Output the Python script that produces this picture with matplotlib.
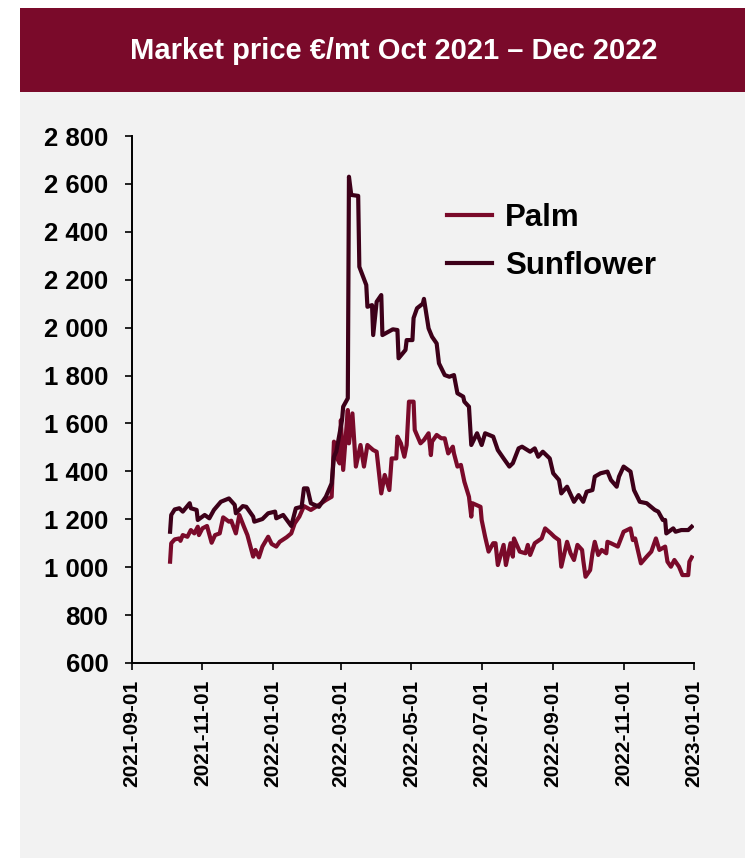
import numpy as np
import pandas as pd
import matplotlib
matplotlib.use("Agg")
import matplotlib.pyplot as plt
import matplotlib.dates as mdates
from matplotlib.patches import Rectangle
from matplotlib.ticker import FuncFormatter

# values (EUR per metric tonne)
palm_dates = [
    "2021-10-04", "2021-10-05", "2021-10-08", "2021-10-12", "2021-10-13", "2021-10-15",
    "2021-10-19", "2021-10-22", "2021-10-25", "2021-10-28", "2021-10-29", "2021-11-01",
    "2021-11-05", "2021-11-09", "2021-11-12", "2021-11-16", "2021-11-19", "2021-11-24",
    "2021-11-26", "2021-11-30", "2021-12-03", "2021-12-07", "2021-12-10", "2021-12-15",
    "2021-12-17", "2021-12-20", "2021-12-23", "2021-12-28", "2021-12-31", "2022-01-04",
    "2022-01-07", "2022-01-13", "2022-01-17", "2022-01-20", "2022-01-24", "2022-01-28",
    "2022-02-03", "2022-02-10", "2022-02-16", "2022-02-21", "2022-02-23", "2022-02-25",
    "2022-02-28", "2022-03-01", "2022-03-03", "2022-03-07", "2022-03-08", "2022-03-11",
    "2022-03-14", "2022-03-18", "2022-03-21", "2022-03-24", "2022-03-29", "2022-04-01",
    "2022-04-05", "2022-04-08", "2022-04-12", "2022-04-14", "2022-04-18", "2022-04-19",
    "2022-04-22", "2022-04-25", "2022-04-27", "2022-04-29", "2022-05-03", "2022-05-04",
    "2022-05-09", "2022-05-12", "2022-05-16", "2022-05-18", "2022-05-19", "2022-05-23",
    "2022-05-27", "2022-05-30", "2022-06-02", "2022-06-06", "2022-06-07", "2022-06-10",
    "2022-06-13", "2022-06-16", "2022-06-20", "2022-06-22", "2022-06-23", "2022-06-30",
    "2022-07-01", "2022-07-04", "2022-07-07", "2022-07-11", "2022-07-13", "2022-07-15",
    "2022-07-20", "2022-07-22", "2022-07-26", "2022-07-28", "2022-07-29", "2022-08-03",
    "2022-08-08", "2022-08-10", "2022-08-12", "2022-08-16", "2022-08-22", "2022-08-25",
    "2022-08-30", "2022-09-02", "2022-09-06", "2022-09-08", "2022-09-13", "2022-09-16",
    "2022-09-19", "2022-09-22", "2022-09-26", "2022-09-27", "2022-09-29", "2022-10-03",
    "2022-10-05", "2022-10-07", "2022-10-10", "2022-10-13", "2022-10-17", "2022-10-18",
    "2022-10-21", "2022-10-27", "2022-11-01", "2022-11-07", "2022-11-09", "2022-11-11",
    "2022-11-16", "2022-11-21", "2022-11-25", "2022-11-29", "2022-12-02", "2022-12-07",
    "2022-12-09", "2022-12-12", "2022-12-15", "2022-12-19", "2022-12-22", "2022-12-27",
    "2022-12-28", "2022-12-30",
]
palm = [
    1023, 1100, 1116, 1120, 1110, 1134,
    1127, 1155, 1141, 1169, 1134, 1162,
    1172, 1102, 1134, 1141, 1208, 1190,
    1194, 1141, 1218, 1169, 1134, 1044,
    1072, 1041, 1086, 1127, 1097, 1086,
    1106, 1125, 1141, 1183, 1211, 1255,
    1239, 1260, 1280, 1294, 1524, 1461,
    1433, 1614, 1406, 1656, 1517, 1642,
    1420, 1510, 1420, 1510, 1489, 1482,
    1308, 1385, 1322, 1454, 1454, 1545,
    1517, 1461, 1510, 1691, 1691, 1573,
    1517, 1531, 1559, 1468, 1524, 1552,
    1538, 1538, 1475, 1503, 1475, 1420,
    1427, 1357, 1294, 1211, 1267, 1252,
    1197, 1127, 1065, 1100, 1100, 1009,
    1093, 1009, 1100, 1044, 1120, 1065,
    1058, 1093, 1051, 1100, 1120, 1162,
    1141, 1127, 1113, 1002, 1106, 1058,
    1030, 1093, 1072, 1030, 960, 988,
    1058, 1106, 1051, 1072, 1058, 1106,
    1100, 1086, 1148, 1162, 1113, 1120,
    1016, 1044, 1065, 1120, 1072, 1086,
    1023, 1002, 1030, 1002, 967, 967,
    1023, 1041,
]

sun_dates = [
    "2021-10-04", "2021-10-05", "2021-10-08", "2021-10-12", "2021-10-15", "2021-10-21",
    "2021-10-22", "2021-10-27", "2021-10-28", "2021-11-03", "2021-11-07", "2021-11-11",
    "2021-11-17", "2021-11-24", "2021-11-29", "2021-11-30", "2021-12-06", "2021-12-09",
    "2021-12-15", "2021-12-16", "2021-12-23", "2021-12-28", "2022-01-03", "2022-01-04",
    "2022-01-10", "2022-01-17", "2022-01-21", "2022-01-26", "2022-01-28", "2022-01-31",
    "2022-02-03", "2022-02-10", "2022-02-16", "2022-02-21", "2022-02-23", "2022-02-25",
    "2022-03-02", "2022-03-03", "2022-03-07", "2022-03-08", "2022-03-10", "2022-03-16",
    "2022-03-17", "2022-03-23", "2022-03-24", "2022-03-28", "2022-03-29", "2022-04-01",
    "2022-04-05", "2022-04-06", "2022-04-15", "2022-04-19", "2022-04-20", "2022-04-26",
    "2022-04-27", "2022-05-02", "2022-05-03", "2022-05-06", "2022-05-11", "2022-05-12",
    "2022-05-16", "2022-05-19", "2022-05-23", "2022-05-25", "2022-05-30", "2022-06-03",
    "2022-06-07", "2022-06-10", "2022-06-15", "2022-06-16", "2022-06-20", "2022-06-22",
    "2022-06-27", "2022-07-01", "2022-07-04", "2022-07-11", "2022-07-15", "2022-07-20",
    "2022-07-25", "2022-07-28", "2022-08-02", "2022-08-05", "2022-08-12", "2022-08-16",
    "2022-08-19", "2022-08-23", "2022-08-29", "2022-09-01", "2022-09-06", "2022-09-08",
    "2022-09-13", "2022-09-19", "2022-09-23", "2022-09-27", "2022-09-30", "2022-10-05",
    "2022-10-07", "2022-10-12", "2022-10-18", "2022-10-21", "2022-10-26", "2022-10-28",
    "2022-11-01", "2022-11-07", "2022-11-10", "2022-11-15", "2022-11-21", "2022-11-28",
    "2022-12-01", "2022-12-05", "2022-12-07", "2022-12-08", "2022-12-14", "2022-12-16",
    "2022-12-21", "2022-12-27", "2022-12-30",
]
sunflower = [
    1148, 1218, 1241, 1246, 1232, 1267,
    1246, 1239, 1197, 1218, 1204, 1239,
    1273, 1287, 1260, 1225, 1255, 1252,
    1211, 1190, 1201, 1225, 1232, 1204,
    1218, 1172, 1246, 1252, 1329, 1329,
    1267, 1252, 1294, 1350, 1461, 1482,
    1614, 1670, 1705, 2630, 2554, 2550,
    2254, 2178, 2087, 2094, 1969, 2108,
    2136, 1969, 1993, 1990, 1872, 1907,
    1948, 1948, 2040, 2081, 2100, 2120,
    1997, 1962, 1934, 1851, 1802, 1795,
    1802, 1726, 1712, 1691, 1670, 1510,
    1559, 1510, 1559, 1545, 1489, 1454,
    1420, 1434, 1496, 1503, 1482, 1496,
    1461, 1482, 1454, 1392, 1364, 1308,
    1336, 1273, 1301, 1273, 1315, 1322,
    1378, 1392, 1399, 1364, 1336, 1378,
    1420, 1399, 1322, 1273, 1267, 1239,
    1232, 1197, 1197, 1141, 1162, 1148,
    1155, 1155, 1169,
]

title = "Market price €/mt Oct 2021 – Dec 2022"
palm_color = "#7A0A2A"
sun_color = "#3D0019"
bg = "#F2F2F2"

plt.rcParams['font.family'] = ['Liberation Sans', 'DejaVu Sans']
plt.rcParams['font.weight'] = 'bold'

fig = plt.figure(figsize=(7.45, 8.58), dpi=100, facecolor="white")

# grey panel and red title banner
fig.patches.append(Rectangle((20 / 745, 0), 1, 1 - 92 / 858, transform=fig.transFigure,
                             facecolor=bg, edgecolor="none", zorder=-2))
fig.patches.append(Rectangle((20 / 745, 1 - 92 / 858), 1, 84 / 858, transform=fig.transFigure,
                             facecolor=palm_color, edgecolor="none", zorder=-2))
fig.text(0.529, 1 - 51 / 858, title, color="white", fontsize=21, fontweight="bold",
         ha="center", va="center")

ax = fig.add_axes([132 / 745, 1 - 663 / 858, (694 - 132) / 745, (663 - 136) / 858])
ax.set_facecolor(bg)
ax.patch.set_alpha(0)

ax.plot(pd.to_datetime(palm_dates), palm, color=palm_color, lw=3.0, label="Palm",
        solid_joinstyle="round")
ax.plot(pd.to_datetime(sun_dates), sunflower, color=sun_color, lw=3.0, label="Sunflower",
        solid_joinstyle="round")

ax.set_ylim(600, 2800)
ax.set_yticks(np.arange(600, 2801, 200))
ax.yaxis.set_major_formatter(FuncFormatter(lambda v, p: "{:,}".format(int(v)).replace(",", " ")))
ax.set_xlim(pd.Timestamp("2021-09-01"), pd.Timestamp("2023-01-01"))
ax.xaxis.set_major_locator(mdates.MonthLocator(bymonth=[1, 3, 5, 7, 9, 11]))
ax.xaxis.set_major_formatter(mdates.DateFormatter("%Y-%m-%d"))

for s in ["top", "right"]:
    ax.spines[s].set_visible(False)
for s in ["left", "bottom"]:
    ax.spines[s].set_linewidth(1.4)
ax.tick_params(axis="y", direction="out", length=5, width=1.2, labelsize=18.5, pad=12)
ax.tick_params(axis="x", direction="out", length=5, width=1.2, labelsize=15, pad=7,
               labelrotation=90)
for lab in ax.get_xticklabels() + ax.get_yticklabels():
    lab.set_fontweight("bold")

ax.legend(loc="center left", bbox_to_anchor=(447 / 745, 1 - 242 / 858),
          bbox_transform=fig.transFigure, frameon=False,
          handlelength=1.45, handletextpad=0.4, labelspacing=0.6,
          borderpad=0, borderaxespad=0, prop={"weight": "bold", "size": 22.5})

fig.savefig("out.png", dpi=100, facecolor=fig.get_facecolor())
